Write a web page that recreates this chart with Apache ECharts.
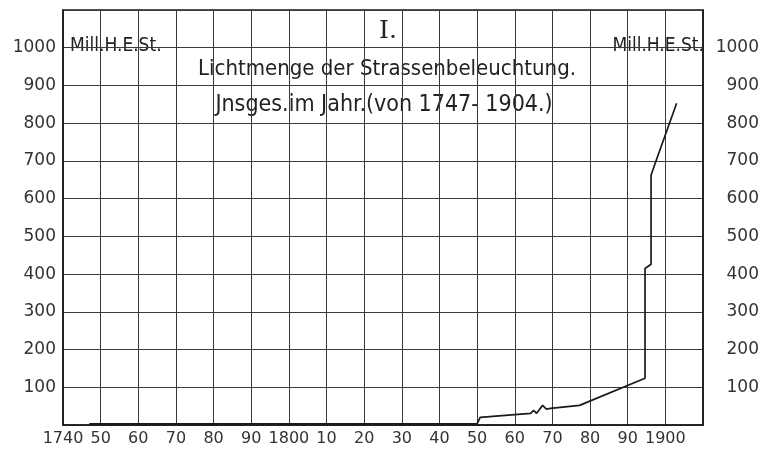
<!DOCTYPE html>
<html>
<head>
<meta charset="utf-8">
<script src="https://cdn.jsdelivr.net/npm/echarts@6/dist/echarts.min.js"></script>
<style>
html,body{margin:0;padding:0;background:#fff;}
#c{width:762px;height:451px;}
</style>
</head>
<body>
<div id="c"></div>
<script>
// Years (x) and light quantity in Mill. H.E.St. (y)
var years  = [1747, 1850, 1850.8, 1864.2, 1865.0, 1865.8, 1867.4, 1868.4, 1869.5, 1877.2, 1894.6, 1894.6, 1896.2, 1896.2, 1897.3, 1903];
var values = [3,    3,    20,     31,     39,     31,     52,     42,     44,     52,     124,    415,    426,    662,    694,    853];

var titleRoman = "I.";
var titleLine1 = "Lichtmenge der Strassenbeleuchtung.";
var titleLine2 = "Jnsges.im Jahr.(von 1747- 1904.)";
var unitLabel = "Mill.H.E.St.";

var xMin = 1740, xMax = 1910, xStep = 10;
var yMin = 0, yMax = 1100, yStep = 100;

var data = years.map(function (y, i) { return [y, values[i]]; });

var labelFont = "DejaVu Sans";
var titleFont = "DejaVu Sans Condensed";

function xLabel(v) {
  v = Math.round(v);
  if (v === xMax) return "";
  if (v === 1740 || v % 100 === 0) return String(v);
  return String(v % 100);
}
function yLabel(v) {
  if (v === yMin || v === yMax) return "";
  return String(v);
}

var chart = echarts.init(document.getElementById("c"), null, {renderer: "canvas"});
chart.setOption({
  backgroundColor: "#ffffff",
  animation: false,
  grid: {left: 63, right: 57, top: 10, bottom: 26, show: true, borderColor: "#1a1a1a", borderWidth: 1.5, backgroundColor: "transparent"},
  xAxis: {
    type: "value", min: xMin, max: xMax, interval: xStep,
    axisLine: {show: true, lineStyle: {color: "#1a1a1a", width: 1.5}},
    axisTick: {show: false},
    splitLine: {show: true, lineStyle: {color: "#3a3a3a", width: 1}},
    axisLabel: {formatter: xLabel, color: "#333", fontFamily: labelFont, fontSize: 16, margin: 6, showMaxLabel: true, showMinLabel: true}
  },
  yAxis: [{
    type: "value", position: "left", min: yMin, max: yMax, interval: yStep,
    axisLine: {show: true, lineStyle: {color: "#1a1a1a", width: 1.5}},
    axisTick: {show: false},
    splitLine: {show: true, lineStyle: {color: "#3a3a3a", width: 1}},
    axisLabel: {formatter: yLabel, color: "#333", fontFamily: labelFont, fontSize: 17, margin: 7}
  }, {
    type: "value", position: "right", min: yMin, max: yMax, interval: yStep,
    axisLine: {show: true, lineStyle: {color: "#1a1a1a", width: 1.5}},
    axisTick: {show: false},
    splitLine: {show: false},
    axisLabel: {formatter: yLabel, color: "#333", fontFamily: labelFont, fontSize: 17, margin: 56, align: "right"}
  }],
  series: [{
    type: "line", data: data, showSymbol: false, smooth: false,
    lineStyle: {color: "#1a1a1a", width: 1.7}, z: 5
  }],
  graphic: [
    {type: "text", left: 379, top: 19, style: {text: titleRoman, font: "25px 'DejaVu Serif'", fill: "#222"}},
    {type: "text", x: 387, y: 69, style: {text: titleLine1, font: "22px '" + titleFont + "'", fill: "#222", textAlign: "center", textVerticalAlign: "middle"}},
    {type: "text", x: 384, y: 105, style: {text: titleLine2, font: "23px '" + titleFont + "'", fill: "#222", textAlign: "center", textVerticalAlign: "middle"}},
    {type: "text", x: 70, y: 46, style: {text: unitLabel, font: "19px '" + titleFont + "'", fill: "#222", textAlign: "left", textVerticalAlign: "middle"}},
    {type: "text", x: 704, y: 46, style: {text: unitLabel, font: "19px '" + titleFont + "'", fill: "#222", textAlign: "right", textVerticalAlign: "middle"}}
  ]
});
</script>
</body>
</html>
